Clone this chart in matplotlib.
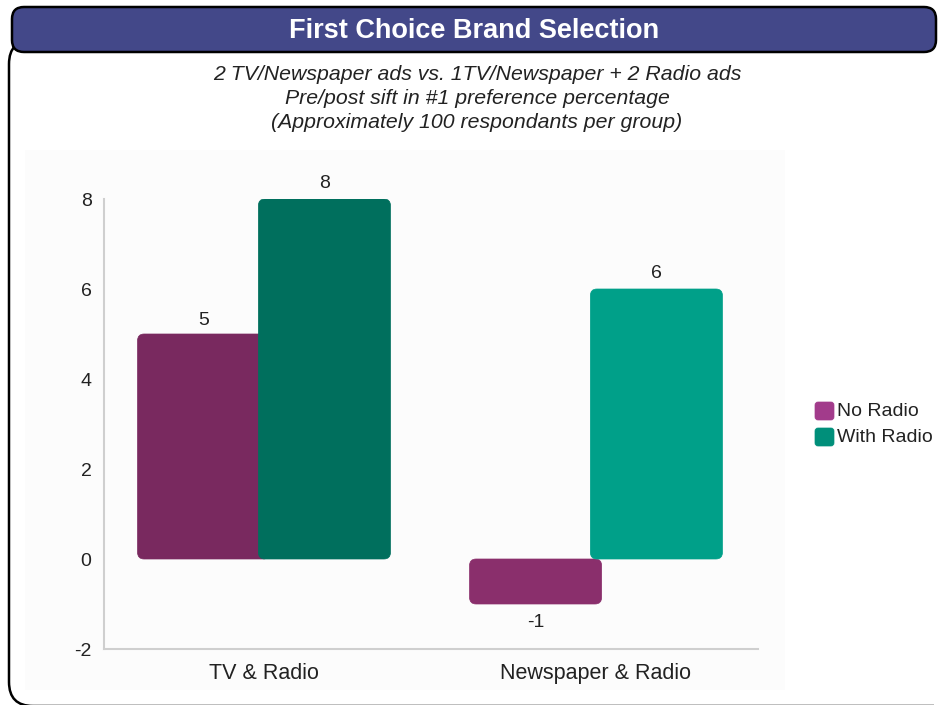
import matplotlib; matplotlib.use("Agg")
import matplotlib.pyplot as plt
from matplotlib.patches import FancyBboxPatch, Rectangle
import numpy as np

plt.rcParams["font.family"] = ["Liberation Sans", "DejaVu Sans"]

categories = ["TV & Radio", "Newspaper & Radio"]
series = ["No Radio", "With Radio"]
no_radio = [5, -1]
with_radio = [8, 6]
yticks = [-2, 0, 2, 4, 6, 8]

title = "First Choice Brand Selection"
subtitle = ["2 TV/Newspaper ads vs. 1TV/Newspaper + 2 Radio ads",
            "Pre/post sift in #1 preference percentage",
            "(Approximately 100 respondants per group)"]

BANNER = "#434889"
PURPLE = ["#79295f", "#8a2f6c"]
GREEN = ["#006f5d", "#00a089"]
LEG = ["#a23b8b", "#008f7a"]
INK = "#222222"

W, H = 938, 705
fig = plt.figure(figsize=(W / 100, H / 100), dpi=100)

# pixel-space background layer: frame, banner, texts
bg = fig.add_axes([0, 0, 1, 1], zorder=0)
bg.set_xlim(0, W); bg.set_ylim(H, 0); bg.axis("off")
bg.add_patch(Rectangle((25, 150), 760, 540, color="#fcfcfc", lw=0))
frame = FancyBboxPatch((9, 40), 1100, 666, boxstyle="round,pad=0,rounding_size=24",
                       fc="none", ec="black", lw=1.8)
bg.add_patch(frame)
frame.set_clip_path(Rectangle((0, 0), 934, H, transform=bg.transData))
bg.add_patch(FancyBboxPatch((12, 7), 924, 45, boxstyle="round,pad=0,rounding_size=12",
                            fc=BANNER, ec="black", lw=1.8))
bg.text(474, 31, title, color="white", fontsize=19.5, fontweight="bold", ha="center", va="center")
for i, s in enumerate(subtitle):
    bg.text(477, 75 + 24 * i, s, fontsize=15.3, style="italic", color=INK, ha="center", va="center")

ax = fig.add_axes([104 / W, 1 - 649 / H, (758 - 104) / W, (649 - 199) / H], zorder=1)
ax.set_facecolor("none")
x = np.arange(len(categories)); w = 0.398; off = 0.182
b1 = ax.bar(x - off, no_radio, w, color=PURPLE)
b2 = ax.bar(x + off, with_radio, w, color=GREEN)

# swap plain rectangles for rounded ones of the same size
for bars, cols, z in ((b1, PURPLE, 2), (b2, GREEN, 3)):
    for p, c in zip(bars, cols):
        x0, y0, bw, bh = p.get_x(), p.get_y(), p.get_width(), p.get_height()
        if bh < 0: y0, bh = y0 + bh, -bh
        p.set_visible(False)
        ax.add_patch(FancyBboxPatch((x0, y0), bw, bh,
                                    boxstyle="round,pad=0,rounding_size=0.02", mutation_aspect=7.4,
                                    fc=c, ec=c, lw=0.5, zorder=z))

for xi, v in zip(x - off, no_radio):
    ax.text(xi, v + (0.12 if v > 0 else -0.22), f"{v}", ha="center",
            va="bottom" if v > 0 else "top", fontsize=14, color=INK)
for xi, v in zip(x + off, with_radio):
    ax.text(xi, v + 0.15, f"{v}", ha="center", va="bottom", fontsize=14, color=INK)

ax.set_xlim(-0.482, 1.488); ax.set_ylim(-2, 8)
ax.set_yticks(yticks); ax.set_yticklabels([str(t) for t in yticks], fontsize=14, color=INK)
ax.set_xticks(x); ax.set_xticklabels(categories, fontsize=15.5, color=INK)
ax.tick_params(length=0, pad=9)
ax.tick_params(axis="x", pad=10)
for s in ("top", "right"): ax.spines[s].set_visible(False)
for s in ("left", "bottom"): ax.spines[s].set_color("#cfcfcf"); ax.spines[s].set_linewidth(1.5)

for i, (lab, c) in enumerate(zip(series, LEG)):
    yy = 411 + 26 * i
    bg.add_patch(FancyBboxPatch((815, yy - 9), 19, 18, boxstyle="round,pad=0,rounding_size=3",
                                fc=c, ec=c, lw=0.5))
    bg.text(837, yy + 1, lab, fontsize=14, color=INK, va="center", ha="left")

fig.savefig("out.png", dpi=100)
